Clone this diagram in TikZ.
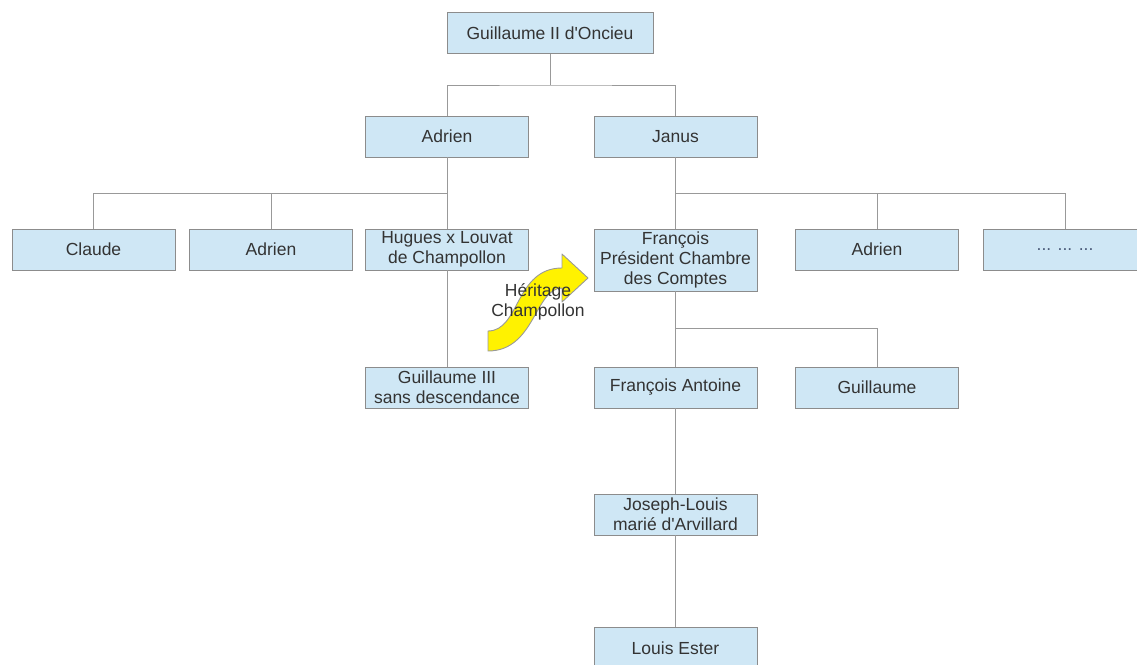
\documentclass[tikz,border=0pt]{standalone}
\usepackage{fontspec}
\setmainfont{Liberation Sans}
\usepackage{tikz}
\usetikzlibrary{positioning}
\definecolor{boxfill}{HTML}{CFE7F5}
\definecolor{boxline}{HTML}{8C8C8C}
\definecolor{linkgray}{HTML}{999999}
\definecolor{textgray}{HTML}{333333}
\definecolor{dotblue}{HTML}{4A5A78}
\tikzstyle{person}=[rectangle, draw=boxline, fill=boxfill, line width=0.9pt,
                    minimum width=163pt, minimum height=41pt, inner sep=0pt,
                    align=center, text=textgray,
                    font=\fontsize{17.5}{20}\selectfont]
\tikzstyle{link}  =[draw=linkgray, line width=1pt]
\tikzstyle{note}  =[inner sep=0pt, align=center, text=textgray,
                    font=\fontsize{17.5}{20}\selectfont]

\begin{document}
\begin{tikzpicture}[x=1pt, y=-1pt, node distance=1cm, on grid]
            \useasboundingbox (0,0) rectangle (1137,664);
            \clip (0,0) rectangle (1137,664);
            \begin{scope}
                \node[person, minimum width=206pt] (guillII) at (550,33) {Guillaume II d\textquotesingle Oncieu};
                \node[person] (adrienA) [below left=103.5pt and 103pt of guillII] {Adrien};
                \node[person] (janus) [right=228.5pt of adrienA] {Janus};
                \node[person] (hugues) [below=113pt of adrienA] {Hugues x Louvat\\de Champollon};
                \node[person] (adrienB) [left=176pt of hugues] {Adrien};
                \node[person] (claude) [left=177.5pt of adrienB] {Claude};
                \node[person, minimum height=62pt] (francois) [below=123.5pt of janus] {François\\Président Chambre\\des Comptes};
                \node[person] (adrienC) at (877,249.5) {Adrien};
                \node[person, text=dotblue] (dots) [right=188pt of adrienC] {... ... ...};
                \node[person] (guillIII) [below=138pt of hugues] {Guillaume III\\sans descendance};
                \node[person] (francoisA) [below=127.5pt of francois] {François Antoine};
                \node[person] (guillaume) [right=201.5pt of francoisA] {Guillaume};
                \node[person] (josephL) [below=127pt of francoisA] {Joseph-Louis\\marié d\textquotesingle Arvillard};
                \node[person] (louisE) [below=133.5pt of josephL] {Louis Ester};
                \coordinate (busA) at (550,85);
                \coordinate (busB) at (447,193);
                \coordinate (busC) at (675.5,193);
                \coordinate (busD) at (675.5,328);
                \draw[link] (guillII) -- (busA);
                \draw[link] (adrienA.north) |- (busA) -| (janus.north);
                \draw[link] (adrienA) -- (hugues);
                \draw[link] (claude.north) |- (busB);
                \draw[link] (adrienB.north) -- (adrienB.north |- busB);
                \draw[link] (hugues) -- (guillIII);
                \draw[link] (janus) -- (francois);
                \draw[link] (busC) -| (dots.north);
                \draw[link] (adrienC.north) -- (adrienC.north |- busC);
                \draw[link] (francois) -- (francoisA);
                \draw[link] (busD) -| (guillaume.north);
                \draw[link] (francoisA) -- (josephL);
                \draw[link] (josephL) -- (louisE);
                % curved heritage arrow
                \draw[fill=yellow, draw=linkgray, line width=0.9pt, line join=round]
                    (488,331) .. controls (520,331) and (515,268) .. (562,268)
                    -- (562,254) -- (588,278) -- (562,302) -- (562,288)
                    .. controls (535,288) and (535,351) .. (488,351) -- cycle;
                \node[note] (heritage) at (538,302) {Héritage\\Champollon};
            \end{scope}
\end{tikzpicture}
\end{document}
